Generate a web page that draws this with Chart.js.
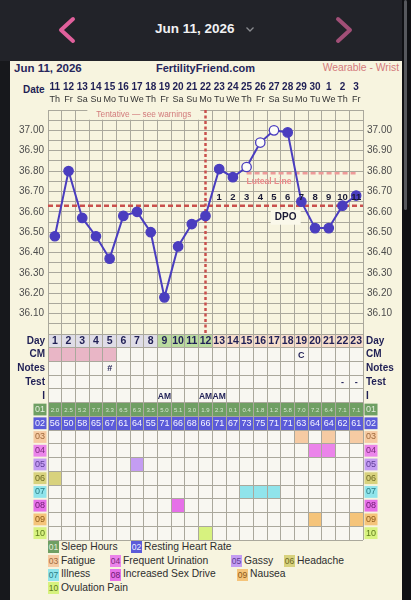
<!DOCTYPE html>
<html>
<head>
<meta charset="utf-8">
<title>Fertility chart</title>
<script src="https://cdn.jsdelivr.net/npm/chart.js@4.4.1/dist/chart.umd.min.js"></script>
<style>
  html, body { margin: 0; padding: 0; }
  body { width: 411px; height: 600px; overflow: hidden; position: relative; background: #17181c; font-family: 'Liberation Sans', Arial, sans-serif; }
  .topbar { position: absolute; left: 0; top: 0; width: 402px; height: 61px; background: #222329; }
  .gutter { position: absolute; left: 402px; top: 0; width: 9px; height: 600px; background: #0f1013; }
  .thumb { position: absolute; left: 404px; top: 0; width: 3px; height: 210px; border-radius: 2px; background: #56585d; }
  .panel { position: absolute; left: 10px; top: 61px; width: 392px; height: 539px; background: #f7f4df; }
  .t { position: absolute; white-space: nowrap; line-height: 13px; }
  .nav-date { left: 155px; top: 21px; line-height: 16px; font-size: 13.5px; font-weight: bold; color: #f1f1f3; }
  .sheet-date { left: 14px; top: 62px; font-size: 11.5px; font-weight: bold; color: #27275c; }
  .site { left: 156px; top: 62px; font-size: 11px; font-weight: bold; color: #27275c; }
  .source { right: 12px; top: 61px; font-size: 10.3px; color: #d47a7c; }
  .date-lbl { left: 23px; top: 83px; font-size: 10px; font-weight: bold; color: #1f1f55; }
  #ffChart { position: absolute; left: 10px; top: 76px; }
  .lg-box { position: absolute; width: 11px; height: 12px; font-size: 8.5px; line-height: 12px; text-align: center; }
  .lg-text { position: absolute; font-size: 10.3px; line-height: 12px; color: #2e2e2e; white-space: nowrap; }
</style>
</head>
<body>
<div class="topbar"></div>
<div class="gutter"></div>
<div class="thumb"></div>
<svg style="position:absolute;left:0;top:0" width="402" height="60">
  <polyline points="73,19 61,30 73,41" fill="none" stroke="#e0609c" stroke-width="4" stroke-linecap="round" stroke-linejoin="round"/>
  <polyline points="338,19 350,30 338,41" fill="none" stroke="#a14f77" stroke-width="4" stroke-linecap="round" stroke-linejoin="round"/>
  <polyline points="246.5,27.5 250,31 253.5,27.5" fill="none" stroke="#8a8b90" stroke-width="1.3"/>
</svg>
<div class="t nav-date">Jun 11, 2026</div>
<div class="panel"></div>
<div class="t sheet-date">Jun 11, 2026</div>
<div class="t site">FertilityFriend.com</div>
<div class="t source">Wearable - Wrist</div>
<div class="t date-lbl">Date</div>
<canvas id="ffChart" width="392" height="465"></canvas>

<div id="legend"></div>

<script>
// Cycle data
const CYCLE_DAYS = [1, 2, 3, 4, 5, 6, 7, 8, 9, 10, 11, 12, 13, 14, 15, 16, 17, 18, 19, 20, 21, 22, 23];
const DATES = ['11', '12', '13', '14', '15', '16', '17', '18', '19', '20', '21', '22', '23', '24', '25', '26', '27', '28', '29', '30', '1', '2', '3'];
const WEEKDAYS = ['Th', 'Fr', 'Sa', 'Su', 'Mo', 'Tu', 'We', 'Th', 'Fr', 'Sa', 'Su', 'Mo', 'Tu', 'We', 'Th', 'Fr', 'Sa', 'Su', 'Mo', 'Tu', 'We', 'Th', 'Fr'];
const TEMPS = [36.48, 36.80, 36.57, 36.48, 36.37, 36.58, 36.60, 36.50, 36.18, 36.43, 36.54, 36.58, 36.81, 36.77, 36.82, 36.94, 37.00, 36.99, 36.65, 36.52, 36.52, 36.63, 36.68];
const OPEN_POINT_DAYS = [15, 16, 17];
const COVERLINE = 36.63;
const LUTEAL_LEVEL = 36.79;
const LUTEAL_FROM = 15;
const LUTEAL_TO = 23;
const OVULATION_DAY = 12;
const DPO_FIRST_DAY = 13;
const TEMP_MIN = 36.0;
const TEMP_MAX = 37.1;
const TEMP_STEP = 0.05;

// Table rows under the chart
const ROW_LABELS = ['Day', 'CM', 'Notes', 'Test', 'I', '01', '02', '03', '04', '05', '06', '07', '08', '09', '10'];
const PHASES = ['pre', 'pre', 'pre', 'pre', 'pre', 'pre', 'pre', 'pre', 'fertile', 'fertile', 'fertile', 'fertile',
  'post', 'post', 'post', 'post', 'post', 'post', 'post', 'post', 'post', 'post', 'post'];
const MENSES_DAYS = [1, 2, 3, 4, 5];
const CM_MARKS = [[19, 'C']];
const NOTE_MARKS = [[5, '#']];
const TEST_MARKS = [[22, '-'], [23, '-']];
const INTERCOURSE_MARKS = [[9, 'AM'], [12, 'AM'], [13, 'AM']];
const SLEEP_HOURS = [2.0, 2.5, 5.2, 7.7, 3.3, 6.5, 6.3, 3.5, 5.0, 5.1, 3.0, 1.9, 2.3, 0.1, 0.4, 1.8, 1.2, 5.8, 7.0, 7.2, 6.4, 7.1, 7.1];
const RESTING_HR = [56, 50, 58, 65, 67, 61, 64, 55, 71, 66, 68, 66, 71, 67, 73, 75, 71, 71, 63, 64, 64, 62, 61];
const SYMPTOM_DAYS = {
  '03': [19, 21, 23],
  '04': [20, 21],
  '05': [7],
  '06': [1],
  '07': [15, 16, 17],
  '08': [10],
  '09': [20, 23],
  '10': [12],
};
const LEGEND_NAMES = {
  '01': 'Sleep Hours', '02': 'Resting Heart Rate', '03': 'Fatigue', '04': 'Frequent Urination',
  '05': 'Gassy', '06': 'Headache', '07': 'Illness', '08': 'Increased Sex Drive', '09': 'Nausea', '10': 'Ovulation Pain',
};

// Styles
const NAVY = '#1f1f55';
const GRID = '#aaa89c';
const LINE_COLOR = '#4a3dbf';
const RED = '#c9504d';
const PINK_TEXT = '#d27b7b';
const LUTEAL_COLOR = '#ee9a98';
const EMPTY_CELL = '#f8f7f1';
const CM_PINK = '#e9b6c6';
const PHASE_FILL = { pre: '#dfdde7', fertile: '#badb9f', post: '#f6ddcb' };
const ROW_COLORS = {
  '01': '#6f9f63', '02': '#5b5bd9', '03': '#f6cba3', '04': '#eb84ea', '05': '#c49df2',
  '06': '#d8d27d', '07': '#90e4eb', '08': '#e670e8', '09': '#f5c47a', '10': '#d7f27f',
};
const ROW_TEXT = {
  '01': '#e4eedd', '02': '#eef', '03': '#a06a3c', '04': '#7b2a7d', '05': '#5d3c95',
  '06': '#6e6a24', '07': '#2a7c84', '08': '#6d1a70', '09': '#8d5a18', '10': '#5d7a1c',
};
const NARROW = "'Liberation Sans Narrow', 'Liberation Sans', Arial, sans-serif";

Chart.defaults.font.family = "'Liberation Sans', Arial, sans-serif";

function cellFill(row, day, i) {
  if (row === 'Day') return PHASE_FILL[PHASES[i]];
  if (row === 'CM') return MENSES_DAYS.includes(day) ? CM_PINK : EMPTY_CELL;
  if (row === '01' || row === '02') return ROW_COLORS[row];
  if (SYMPTOM_DAYS[row]) return SYMPTOM_DAYS[row].includes(day) ? ROW_COLORS[row] : EMPTY_CELL;
  return EMPTY_CELL;
}

function tempLabel(value) {
  const r = Math.round(value * 100);
  return (r % 10 === 0 && r >= 3610 && r <= 3700) ? (r / 100).toFixed(2) : '';
}

// vertical axes: fixed width, and no label overhang so the stacks fill the canvas
const fitSide = (w) => (s) => {
  s.width = w;
  s.paddingTop = 0;
  s.paddingBottom = 0;
};

// Table cells, markers and annotations, all placed with the chart's scales
const ffPlugin = {
  id: 'ffTable',
  beforeDraw(chart) {
    const { ctx, scales: { x, r } } = chart;
    const cw = x.getPixelForValue(1) - x.getPixelForValue(0);
    const rh = r.getPixelForValue(1) - r.getPixelForValue(0);
    ctx.save();
    ROW_LABELS.forEach((row, ri) => {
      const cy = r.getPixelForValue(ri);
      CYCLE_DAYS.forEach((day, ci) => {
        const cx = x.getPixelForValue(ci);
        ctx.fillStyle = cellFill(row, day, ci);
        ctx.fillRect(cx - cw / 2, cy - rh / 2, cw, rh);
      });
    });
    ctx.restore();
  },
  beforeDatasetsDraw(chart) {
    const { ctx, chartArea, scales: { x, y, r } } = chart;
    const dayPx = (day) => x.getPixelForValue(CYCLE_DAYS.indexOf(day));
    ctx.save();

    // "Tentative" note over the top grid row
    ctx.font = '8.3px ' + Chart.defaults.font.family;
    const note = 'Tentative \u2014 see warnings';
    const nx = x.getPixelForValue(6.5);
    const nw = ctx.measureText(note).width + 18;
    ctx.fillStyle = '#f7f4df';
    ctx.fillRect(nx - nw / 2, chartArea.top - 1, nw, y.getPixelForValue(TEMP_MAX - TEMP_STEP) - chartArea.top + 0.5);
    ctx.fillStyle = PINK_TEXT;
    ctx.textAlign = 'center';
    ctx.textBaseline = 'middle';
    ctx.fillText(note, nx, chartArea.top + 4.5);

    // coverline
    const cy = y.getPixelForValue(COVERLINE);
    ctx.strokeStyle = RED;
    ctx.lineWidth = 2.5;
    ctx.setLineDash([5, 3]);
    ctx.beginPath();
    ctx.moveTo(chartArea.left, cy);
    ctx.lineTo(chartArea.right, cy);
    ctx.stroke();

    // ovulation line
    const ox = dayPx(OVULATION_DAY);
    ctx.setLineDash([3, 2.5]);
    ctx.beginPath();
    ctx.moveTo(ox, chartArea.top);
    ctx.lineTo(ox, y.bottom);
    ctx.stroke();
    ctx.setLineDash([]);

    // luteal line caption
    ctx.font = 'bold 8.5px ' + Chart.defaults.font.family;
    ctx.fillStyle = '#e98b8b';
    ctx.textAlign = 'left';
    ctx.fillText('Luteal Line', dayPx(LUTEAL_FROM), y.getPixelForValue(LUTEAL_LEVEL) + 8.5);

    // table texts
    const rowY = (label) => r.getPixelForValue(ROW_LABELS.indexOf(label));
    ctx.textAlign = 'center';
    ctx.textBaseline = 'middle';
    ctx.fillStyle = NAVY;
    ctx.font = 'bold 10.5px ' + Chart.defaults.font.family;
    CYCLE_DAYS.forEach((day, i) => ctx.fillText(String(day), x.getPixelForValue(i), rowY('Day') + 0.5));

    ctx.font = 'bold 9px ' + Chart.defaults.font.family;
    CM_MARKS.forEach(([day, t]) => ctx.fillText(t, dayPx(day), rowY('CM') + 0.5));
    NOTE_MARKS.forEach(([day, t]) => ctx.fillText(t, dayPx(day), rowY('Notes') + 0.5));
    TEST_MARKS.forEach(([day, t]) => ctx.fillText(t, dayPx(day), rowY('Test') + 0.5));
    ctx.font = 'bold 8.5px ' + NARROW;
    INTERCOURSE_MARKS.forEach(([day, t]) => ctx.fillText(t, dayPx(day), rowY('I') + 0.5));

    ctx.font = '6px ' + Chart.defaults.font.family;
    ctx.fillStyle = 'rgba(255,255,255,0.72)';
    SLEEP_HOURS.forEach((v, i) => ctx.fillText(v.toFixed(1), x.getPixelForValue(i), rowY('01') + 0.5));
    ctx.font = '9px ' + Chart.defaults.font.family;
    ctx.fillStyle = '#f4f4ff';
    RESTING_HR.forEach((v, i) => ctx.fillText(String(v), x.getPixelForValue(i), rowY('02') + 0.5));
    ctx.restore();
  },
  afterDatasetsDraw(chart) {
    const { ctx, scales: { x, y } } = chart;
    const cy = y.getPixelForValue(COVERLINE);
    ctx.save();
    ctx.textAlign = 'center';
    ctx.textBaseline = 'middle';
    ctx.fillStyle = '#1a1a36';
    ctx.font = 'bold 9.5px ' + Chart.defaults.font.family;
    CYCLE_DAYS.forEach((day, i) => {
      if (day >= DPO_FIRST_DAY) ctx.fillText(String(day - DPO_FIRST_DAY + 1), x.getPixelForValue(i), cy - 8);
    });
    const dx = x.getPixelForValue(CYCLE_DAYS.indexOf(18)) - 2;
    ctx.fillStyle = '#faf8ea';
    ctx.fillRect(dx - 15, cy + 4, 30, 15);
    ctx.fillStyle = '#1a1a36';
    ctx.font = 'bold 10px ' + Chart.defaults.font.family;
    ctx.fillText('DPO', dx, cy + 11.5);
    ctx.restore();
  },
};

const lutealData = CYCLE_DAYS.map(d => (d >= LUTEAL_FROM && d <= LUTEAL_TO ? LUTEAL_LEVEL : null));

const rowTicks = {
  autoSkip: false,
  padding: 3,
  showLabelBackdrop: true,
  backdropPadding: { top: 0.5, bottom: 0.5, left: 1.5, right: 1.5 },
  backdropColor: (c) => ROW_COLORS[ROW_LABELS[c.index]] || 'rgba(0,0,0,0)',
  color: (c) => ROW_TEXT[ROW_LABELS[c.index]] || NAVY,
  font: (c) => (c.index < 5 ? { family: NARROW, weight: 'bold', size: 10 } : { size: 9 }),
};
const tempTicks = {
  autoSkip: false,
  stepSize: TEMP_STEP,
  padding: 4,
  color: '#4d4d4d',
  font: { size: 10 },
  callback: tempLabel,
};

new Chart(document.getElementById('ffChart'), {
  type: 'line',
  data: {
    labels: CYCLE_DAYS.map(String),
    datasets: [
      {
        label: 'Temperature',
        data: TEMPS,
        xAxisID: 'x',
        yAxisID: 'y',
        borderColor: LINE_COLOR,
        borderWidth: 2,
        tension: 0,
        pointRadius: 4.7,
        pointBorderWidth: 1.3,
        pointBorderColor: LINE_COLOR,
        pointBackgroundColor: CYCLE_DAYS.map(d => (OPEN_POINT_DAYS.includes(d) ? '#fdfdf8' : LINE_COLOR)),
      },
      {
        label: 'Luteal Line',
        data: lutealData,
        xAxisID: 'x',
        yAxisID: 'y',
        borderColor: LUTEAL_COLOR,
        borderWidth: 2.5,
        borderDash: [5, 3],
        pointRadius: 0,
      },
    ],
  },
  options: {
    responsive: false,
    devicePixelRatio: 1,
    animation: false,
    events: [],
    layout: { autoPadding: false, padding: { top: 0, bottom: 1, left: 0, right: 0 } },
    plugins: { legend: { display: false }, tooltip: { enabled: false } },
    scales: {
      x: {
        type: 'category',
        position: 'top',
        offset: true,
        weight: 2,
        grid: { offset: true, color: GRID, drawTicks: false },
        border: { display: false },
        ticks: { autoSkip: false, maxRotation: 0, padding: 1, color: NAVY, font: { size: 10, weight: 'bold' }, callback: (v, i) => DATES[i] },
        afterFit: (s) => { s.height = 18; },
      },
      xw: {
        type: 'category',
        labels: CYCLE_DAYS.map(String),
        position: 'top',
        offset: true,
        weight: 1,
        grid: { display: false, drawTicks: false },
        border: { display: false },
        ticks: { autoSkip: false, maxRotation: 0, padding: 5.4, color: '#333', font: { size: 9 }, callback: (v, i) => WEEKDAYS[i] },
        afterFit: (s) => { s.height = 16; },
      },
      r: {
        type: 'category',
        labels: ROW_LABELS,
        position: 'left',
        stack: 'left',
        stackWeight: 206,
        offset: true,
        grid: { offset: true, color: GRID, drawTicks: false },
        border: { display: false },
        ticks: rowTicks,
        afterFit: fitSide(38),
      },
      y: {
        type: 'linear',
        position: 'left',
        stack: 'left',
        stackWeight: 224,
        min: TEMP_MIN,
        max: TEMP_MAX,
        grid: { color: GRID, drawTicks: false },
        border: { display: false },
        ticks: tempTicks,
        afterFit: fitSide(38),
      },
      y2: {
        type: 'linear',
        position: 'right',
        stack: 'right',
        stackWeight: 224,
        min: TEMP_MIN,
        max: TEMP_MAX,
        grid: { display: false, drawTicks: false },
        border: { display: false },
        ticks: tempTicks,
        afterFit: fitSide(39),
      },
      r2: {
        type: 'category',
        labels: ROW_LABELS,
        position: 'right',
        stack: 'right',
        stackWeight: 206,
        offset: true,
        grid: { display: false, drawTicks: false },
        border: { display: false },
        ticks: rowTicks,
        afterFit: fitSide(39),
      },
    },
  },
  plugins: [ffPlugin],
});

// Symptom legend under the table
const LEGEND_SPOTS = [
  ['01', 48, 547], ['02', 131, 547],
  ['03', 48, 561], ['04', 110, 561], ['05', 231, 561], ['06', 284, 561],
  ['07', 48, 574.5], ['08', 110, 574.5], ['09', 237, 574.5],
  ['10', 48, 588],
];
const legend = document.getElementById('legend');
LEGEND_SPOTS.forEach(([code, left, mid]) => {
  const box = document.createElement('div');
  box.className = 'lg-box';
  box.style.left = left + 'px';
  box.style.top = (mid - 6) + 'px';
  box.style.background = ROW_COLORS[code];
  box.style.color = ROW_TEXT[code];
  box.textContent = code;
  const text = document.createElement('div');
  text.className = 'lg-text';
  text.style.left = (left + 13) + 'px';
  text.style.top = (mid - 6.5) + 'px';
  text.textContent = LEGEND_NAMES[code];
  legend.appendChild(box);
  legend.appendChild(text);
});
</script>
</body>
</html>
